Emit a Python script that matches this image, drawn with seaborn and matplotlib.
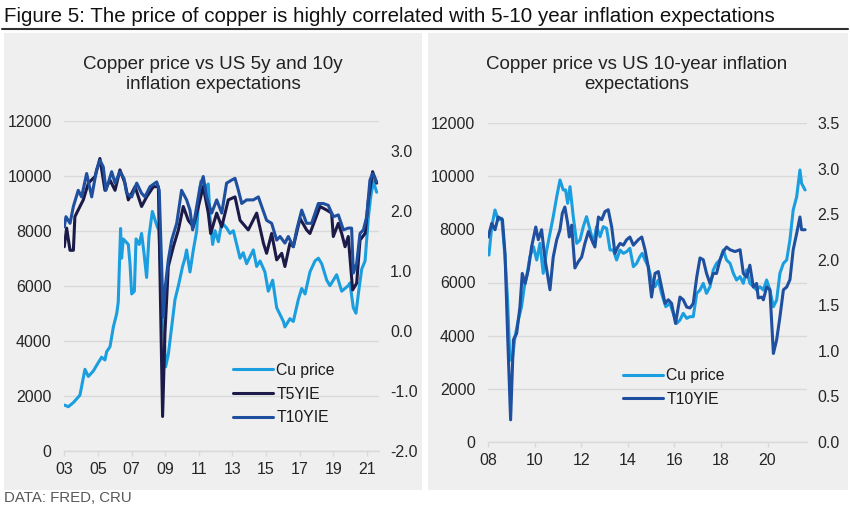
import numpy as np
import pandas as pd
import matplotlib
matplotlib.use("Agg")
import matplotlib.pyplot as plt
from matplotlib.patches import Rectangle
from matplotlib.lines import Line2D
import seaborn as sns

# ---------------- data ----------------
# Left panel: copper price (USD/t) 2003-2021
cu_l_year = [2003.00, 2003.24, 2003.54, 2003.93, 2004.23, 2004.43, 2004.73, 2004.92, 2005.22, 2005.42,
             2005.52, 2005.72, 2005.92, 2006.12, 2006.21, 2006.35, 2006.41, 2006.51, 2006.81, 2006.91,
             2007.01, 2007.17, 2007.27, 2007.46, 2007.60, 2007.74, 2007.90, 2008.04, 2008.24, 2008.50,
             2008.63, 2008.79, 2009.03, 2009.19, 2009.39, 2009.59, 2009.79, 2010.04, 2010.18, 2010.28,
             2010.48, 2010.68, 2010.88, 2010.98, 2011.13, 2011.37, 2011.57, 2011.67, 2011.83, 2011.97,
             2012.17, 2012.37, 2012.66, 2012.86, 2013.06, 2013.26, 2013.46, 2013.65, 2013.85, 2014.25,
             2014.45, 2014.65, 2014.94, 2015.14, 2015.40, 2015.64, 2016.04, 2016.13, 2016.43, 2016.63,
             2016.93, 2017.13, 2017.33, 2017.62, 2017.92, 2018.12, 2018.32, 2018.62, 2018.81, 2019.21,
             2019.51, 2019.90, 2020.00, 2020.20, 2020.36, 2020.50, 2020.70, 2020.90, 2021.00, 2021.10,
             2021.23, 2021.39, 2021.59]
cu_l_price = [1660, 1600, 1750, 2020, 2960, 2700, 2900, 3100, 3400, 3300,
              3600, 3780, 4500, 4990, 5400, 8080, 7000, 7700, 7500, 6800,
              5700, 5800, 7700, 7500, 7900, 7200, 6300, 7800, 8700, 8200,
              8000, 6000, 3050, 3500, 4500, 5500, 6000, 6700, 7000, 7300,
              6500, 7300, 8000, 9000, 9800, 9500, 9700, 8500, 7500, 8000,
              7600, 8300, 8100, 7900, 8000, 7500, 7000, 7200, 6800, 7300,
              6700, 6900, 6500, 5800, 6200, 5200, 4700, 4500, 4800, 4700,
              5500, 5900, 5700, 6500, 6900, 7000, 6800, 6200, 6000, 6400,
              5800, 6000, 6100, 5200, 5000, 5700, 6600, 6900, 7700, 8500,
              9200, 9800, 9400]

# Left panel: 5-year breakeven inflation (%)
t5_l_year = [2003.00, 2003.14, 2003.34, 2003.54, 2003.63, 2003.93, 2004.13, 2004.43, 2004.83, 2005.12,
             2005.42, 2005.72, 2006.02, 2006.31, 2006.61, 2006.81, 2007.21, 2007.60, 2007.90, 2008.30,
             2008.60, 2008.85, 2008.99, 2009.19, 2009.49, 2009.79, 2010.08, 2010.38, 2010.68, 2010.98,
             2011.27, 2011.57, 2011.71, 2012.07, 2012.37, 2012.76, 2013.16, 2013.46, 2013.95, 2014.45,
             2014.85, 2015.04, 2015.34, 2015.64, 2015.94, 2016.13, 2016.43, 2016.63, 2017.03, 2017.42,
             2017.62, 2018.22, 2018.62, 2018.91, 2019.01, 2019.31, 2019.51, 2019.71, 2019.90, 2020.16,
             2020.40, 2020.60, 2020.90, 2021.10, 2021.35, 2021.59]
t5_l_val = [1.40, 1.71, 1.34, 1.34, 1.90, 2.07, 2.18, 2.46, 2.57, 2.87,
            2.34, 2.51, 2.34, 2.68, 2.46, 2.18, 2.40, 2.07, 2.23, 2.40,
            2.40, -1.43, -0.04, 1.07, 1.40, 1.68, 2.07, 1.84, 1.73, 2.07,
            2.40, 1.96, 1.62, 1.96, 1.73, 2.18, 2.23, 1.84, 1.68, 1.96,
            1.46, 1.29, 1.62, 1.18, 1.29, 1.07, 1.46, 1.40, 1.87, 1.68,
            1.62, 2.07, 2.01, 1.96, 1.57, 1.79, 1.62, 1.40, 1.57, 0.68,
            0.79, 1.51, 1.62, 2.18, 2.65, 2.46]

# Left panel: 10-year breakeven inflation (%)
t10_l_year = [2003.00, 2003.10, 2003.34, 2003.54, 2003.83, 2004.03, 2004.33, 2004.63, 2004.92, 2005.12,
              2005.32, 2005.48, 2005.82, 2006.02, 2006.31, 2006.55, 2006.71, 2007.01, 2007.31, 2007.60,
              2007.80, 2008.10, 2008.50, 2008.65, 2008.89, 2008.99, 2009.19, 2009.39, 2009.69, 2009.98,
              2010.28, 2010.48, 2010.64, 2010.88, 2011.08, 2011.27, 2011.47, 2011.77, 2012.07, 2012.37,
              2012.66, 2012.96, 2013.16, 2013.36, 2013.56, 2013.85, 2014.25, 2014.55, 2014.75, 2015.04,
              2015.34, 2015.64, 2015.84, 2016.13, 2016.33, 2016.63, 2016.83, 2017.13, 2017.42, 2017.72,
              2018.12, 2018.41, 2018.71, 2019.01, 2019.31, 2019.61, 2019.90, 2020.10, 2020.20, 2020.40,
              2020.60, 2020.80, 2021.00, 2021.19, 2021.35, 2021.59]
t10_l_val = [1.73, 1.90, 1.79, 2.07, 2.34, 2.23, 2.62, 2.23, 2.68, 2.84,
             2.73, 2.34, 2.65, 2.46, 2.65, 2.54, 2.29, 2.23, 2.46, 2.29,
             2.23, 2.40, 2.48, 2.34, 0.23, 0.68, 1.18, 1.51, 1.79, 2.34,
             2.18, 2.01, 1.68, 2.07, 2.40, 2.57, 2.23, 1.96, 2.18, 1.96,
             2.46, 2.51, 2.54, 2.34, 2.12, 2.18, 2.18, 2.23, 2.07, 1.84,
             1.79, 1.51, 1.57, 1.46, 1.57, 1.40, 1.68, 2.01, 1.79, 1.79,
             2.12, 2.12, 2.09, 1.90, 1.93, 1.68, 1.71, 1.71, 0.96, 1.12,
             1.62, 1.68, 1.90, 2.51, 2.62, 2.48]

# Right panel: copper price 2008-2021
cu_r_year = [2008.04, 2008.16, 2008.30, 2008.44, 2008.59, 2008.73, 2008.84, 2008.94, 2009.04, 2009.16,
             2009.30, 2009.44, 2009.56, 2009.66, 2009.80, 2009.95, 2010.09, 2010.23, 2010.37, 2010.52,
             2010.66, 2010.80, 2010.95, 2011.09, 2011.23, 2011.33, 2011.42, 2011.52, 2011.66, 2011.81,
             2011.95, 2012.09, 2012.23, 2012.38, 2012.52, 2012.66, 2012.81, 2012.95, 2013.09, 2013.24,
             2013.38, 2013.52, 2013.67, 2013.81, 2013.95, 2014.09, 2014.24, 2014.38, 2014.52, 2014.62,
             2014.74, 2014.88, 2015.02, 2015.17, 2015.31, 2015.45, 2015.63, 2015.81, 2015.95, 2016.10,
             2016.24, 2016.38, 2016.53, 2016.67, 2016.81, 2016.96, 2017.10, 2017.24, 2017.38, 2017.53,
             2017.67, 2017.81, 2017.96, 2018.10, 2018.24, 2018.39, 2018.53, 2018.67, 2018.82, 2018.96,
             2019.10, 2019.24, 2019.39, 2019.53, 2019.67, 2019.82, 2019.96, 2020.10, 2020.25, 2020.39,
             2020.53, 2020.68, 2020.82, 2020.96, 2021.10, 2021.25, 2021.39, 2021.46, 2021.61]
cu_r_price = [7036, 8104, 8733, 8356, 8419, 6974, 5340, 3078, 3078, 3958,
              4586, 5089, 5843, 6220, 6974, 7350, 6848, 7476, 6345, 7225,
              7853, 8481, 9235, 9864, 9487, 9487, 8984, 9612, 8481, 7476,
              7602, 8104, 8481, 7979, 7476, 8104, 7727, 8104, 8042, 7225,
              7225, 6848, 7225, 7099, 7162, 7288, 6597, 6722, 6974, 7099,
              6848, 6597, 6094, 5843, 6094, 5591, 5089, 5214, 4838, 4461,
              4586, 4838, 4649, 4712, 4712, 5591, 5717, 5968, 5591, 5843,
              6471, 6722, 6848, 7225, 6848, 6722, 6345, 6094, 6220, 5968,
              6471, 5968, 5843, 5717, 5843, 5717, 6094, 5717, 5089, 5340,
              6345, 6722, 6848, 7602, 8733, 9235, 10240, 9738, 9487]

# Right panel: 10-year breakeven inflation
t10_r_year = [2008.01, 2008.16, 2008.30, 2008.44, 2008.62, 2008.73, 2008.84, 2008.97, 2009.09, 2009.23,
              2009.37, 2009.47, 2009.59, 2009.73, 2009.87, 2010.05, 2010.16, 2010.30, 2010.45, 2010.66,
              2010.80, 2010.95, 2011.09, 2011.19, 2011.30, 2011.42, 2011.49, 2011.59, 2011.73, 2011.88,
              2012.02, 2012.16, 2012.31, 2012.45, 2012.59, 2012.74, 2012.88, 2013.02, 2013.16, 2013.31,
              2013.45, 2013.57, 2013.67, 2013.81, 2013.95, 2014.09, 2014.24, 2014.45, 2014.60, 2014.74,
              2014.88, 2015.02, 2015.17, 2015.31, 2015.45, 2015.60, 2015.74, 2015.88, 2016.05, 2016.24,
              2016.38, 2016.53, 2016.67, 2016.81, 2016.96, 2017.10, 2017.24, 2017.38, 2017.53, 2017.67,
              2017.81, 2017.96, 2018.10, 2018.24, 2018.39, 2018.60, 2018.82, 2018.96, 2019.10, 2019.24,
              2019.39, 2019.53, 2019.60, 2019.75, 2019.82, 2019.96, 2020.10, 2020.25, 2020.39, 2020.53,
              2020.68, 2020.82, 2020.96, 2021.10, 2021.25, 2021.39, 2021.46, 2021.61]
t10_r_val = [2.25, 2.40, 2.33, 2.47, 2.44, 2.07, 1.19, 0.24, 1.12, 1.19,
             1.48, 1.85, 1.74, 1.89, 2.14, 2.36, 2.22, 2.33, 2.00, 1.67,
             2.03, 2.22, 2.33, 2.51, 2.58, 2.40, 2.25, 2.38, 1.91, 1.98,
             2.03, 2.18, 2.31, 2.22, 2.14, 2.47, 2.44, 2.53, 2.55, 2.36,
             2.07, 2.14, 2.18, 2.16, 2.22, 2.25, 2.16, 2.22, 2.25, 2.11,
             1.92, 1.59, 1.85, 1.87, 1.70, 1.52, 1.56, 1.52, 1.30, 1.59,
             1.56, 1.48, 1.47, 1.52, 1.81, 2.02, 2.00, 1.85, 1.74, 1.85,
             1.85, 2.00, 2.09, 2.14, 2.11, 2.09, 2.11, 1.85, 1.81, 1.94,
             1.70, 1.74, 1.58, 1.59, 1.56, 1.70, 1.67, 0.97, 1.12, 1.37,
             1.67, 1.70, 1.78, 2.11, 2.29, 2.47, 2.33, 2.33]

left_xticks = [2003, 2005, 2007, 2009, 2011, 2013, 2015, 2017, 2019, 2021]
left_xlabels = ["03", "05", "07", "09", "11", "13", "15", "17", "19", "21"]
right_xticks = [2008, 2010, 2012, 2014, 2016, 2018, 2020]
right_xlabels = ["08", "10", "12", "14", "16", "18", "20"]

# ---------------- style ----------------
sns.set_theme(style="white")
plt.rcParams["font.family"] = ["Liberation Sans", "DejaVu Sans"]

C_CU = "#1a9ee0"
C_T5 = "#1b1a48"
C_T10 = "#1f4f9f"
PANEL = "#efefef"
GRID = "#d9d9d9"
TXT = "#262626"
LW = 2.2
TICK_FS = 11.5
LEG_FS = 11.3

W, H = 850, 512
fig = plt.figure(figsize=(W / 100, H / 100), dpi=100)
fig.patch.set_facecolor("white")

def px_rect(x0, y0, x1, y1):
    return [x0 / W, 1 - y1 / H, (x1 - x0) / W, (y1 - y0) / H]

# grey panel backgrounds (drawn behind everything)
for (x0, x1) in [(4, 422), (428, 848)]:
    fig.patches.append(Rectangle((x0 / W, 1 - 490 / H), (x1 - x0) / W, (490 - 33) / H,
                                 transform=fig.transFigure, facecolor=PANEL, edgecolor="none", zorder=-10))
fig.lines.append(Line2D([2 / W, 848 / W], [1 - 28.5 / H] * 2, transform=fig.transFigure,
                        color="#303030", lw=1.5, zorder=-5))

fig.text(4 / W, 1 - 16 / H, "Figure 5: The price of copper is highly correlated with 5-10 year inflation expectations",
         ha="left", va="center", fontsize=14.8, color="#111111")
fig.text(4 / W, 1 - 498 / H, "DATA: FRED, CRU", ha="left", va="center", fontsize=10.8, color="#595959")
fig.text(213 / W, 1 - 74.5 / H, "Copper price vs US 5y and 10y\ninflation expectations",
         ha="center", va="center", fontsize=13.5, color="#222222", linespacing=1.3)
fig.text(637 / W, 1 - 74.5 / H, "Copper price vs US 10-year inflation\nexpectations",
         ha="center", va="center", fontsize=13.5, color="#222222", linespacing=1.3)


def style_axes(ax, ax2, xticks, xlabels, xlim, y2lim, y2ticks):
    ax.patch.set_visible(False)
    ax2.patch.set_visible(False)
    ax.set_xlim(*xlim)
    ax.set_ylim(0, 12000)
    ax.set_yticks(range(0, 12001, 2000))
    ax.set_yticklabels([str(v) for v in range(0, 12001, 2000)])
    ax.set_xticks(xticks)
    ax.set_xticklabels(xlabels)
    ax.grid(axis="y", color=GRID, lw=1)
    ax.grid(axis="x", visible=False)
    ax2.grid(False)
    ax2.set_ylim(*y2lim)
    ax2.set_yticks(y2ticks)
    ax2.set_yticklabels([f"{v:.1f}" for v in y2ticks])
    for a in (ax, ax2):
        for s in a.spines.values():
            s.set_visible(False)
        a.set_xlabel("")
        a.set_ylabel("")
    ax.spines["bottom"].set_visible(True)
    ax.spines["bottom"].set_color(GRID)
    ax.spines["bottom"].set_linewidth(1)
    # pads / lengths are in points (1 px = 0.72 pt at 100 dpi)
    ax.tick_params(axis="x", bottom=True, length=3.5, width=1, color=GRID, labelsize=TICK_FS,
                   labelcolor=TXT, pad=4.5)
    ax.tick_params(axis="y", left=False, length=0, labelsize=TICK_FS, labelcolor=TXT, pad=9.1)
    ax2.tick_params(axis="y", right=False, length=0, labelsize=TICK_FS, labelcolor=TXT, pad=7.9)


# ---------------- left panel ----------------
axL = fig.add_axes(px_rect(64.3, 120.7, 379, 450.7))
axL2 = axL.twinx()
sns.lineplot(x=cu_l_year, y=cu_l_price, ax=axL, color=C_CU, lw=LW, label="Cu price", legend=False)
sns.lineplot(x=t5_l_year, y=t5_l_val, ax=axL2, color=C_T5, lw=LW, label="T5YIE", legend=False)
sns.lineplot(x=t10_l_year, y=t10_l_val, ax=axL2, color=C_T10, lw=LW, label="T10YIE", legend=False)
style_axes(axL, axL2, left_xticks, left_xlabels, (2003, 2021.73), (-2, 3.5), [-2.0, -1.0, 0.0, 1.0, 2.0, 3.0])
h1, l1 = axL.get_legend_handles_labels()
h2, l2 = axL2.get_legend_handles_labels()
axL2.legend(h1 + h2, l1 + l2, loc="upper left", bbox_to_anchor=(0.536, 0.266), frameon=False,
            fontsize=LEG_FS, handlelength=2.55, handletextpad=0.22, labelspacing=0.55, borderpad=0,
            borderaxespad=0, labelcolor="#1a1a1a")

# ---------------- right panel ----------------
axR = fig.add_axes(px_rect(488, 123.3, 806.7, 441.7))
axR2 = axR.twinx()
sns.lineplot(x=cu_r_year, y=cu_r_price, ax=axR, color=C_CU, lw=LW, label="Cu price", legend=False)
sns.lineplot(x=t10_r_year, y=t10_r_val, ax=axR2, color=C_T10, lw=LW, label="T10YIE", legend=False)
style_axes(axR, axR2, right_xticks, right_xlabels, (2008, 2021.68), (0, 3.5),
           [0.0, 0.5, 1.0, 1.5, 2.0, 2.5, 3.0, 3.5])
h1, l1 = axR.get_legend_handles_labels()
h2, l2 = axR2.get_legend_handles_labels()
axR2.legend(h1 + h2, l1 + l2, loc="upper left", bbox_to_anchor=(0.4236, 0.231), frameon=False,
            fontsize=LEG_FS, handlelength=2.55, handletextpad=0.22, labelspacing=0.55, borderpad=0,
            borderaxespad=0, labelcolor="#1a1a1a")

fig.savefig("out.png", dpi=100, facecolor="white")
